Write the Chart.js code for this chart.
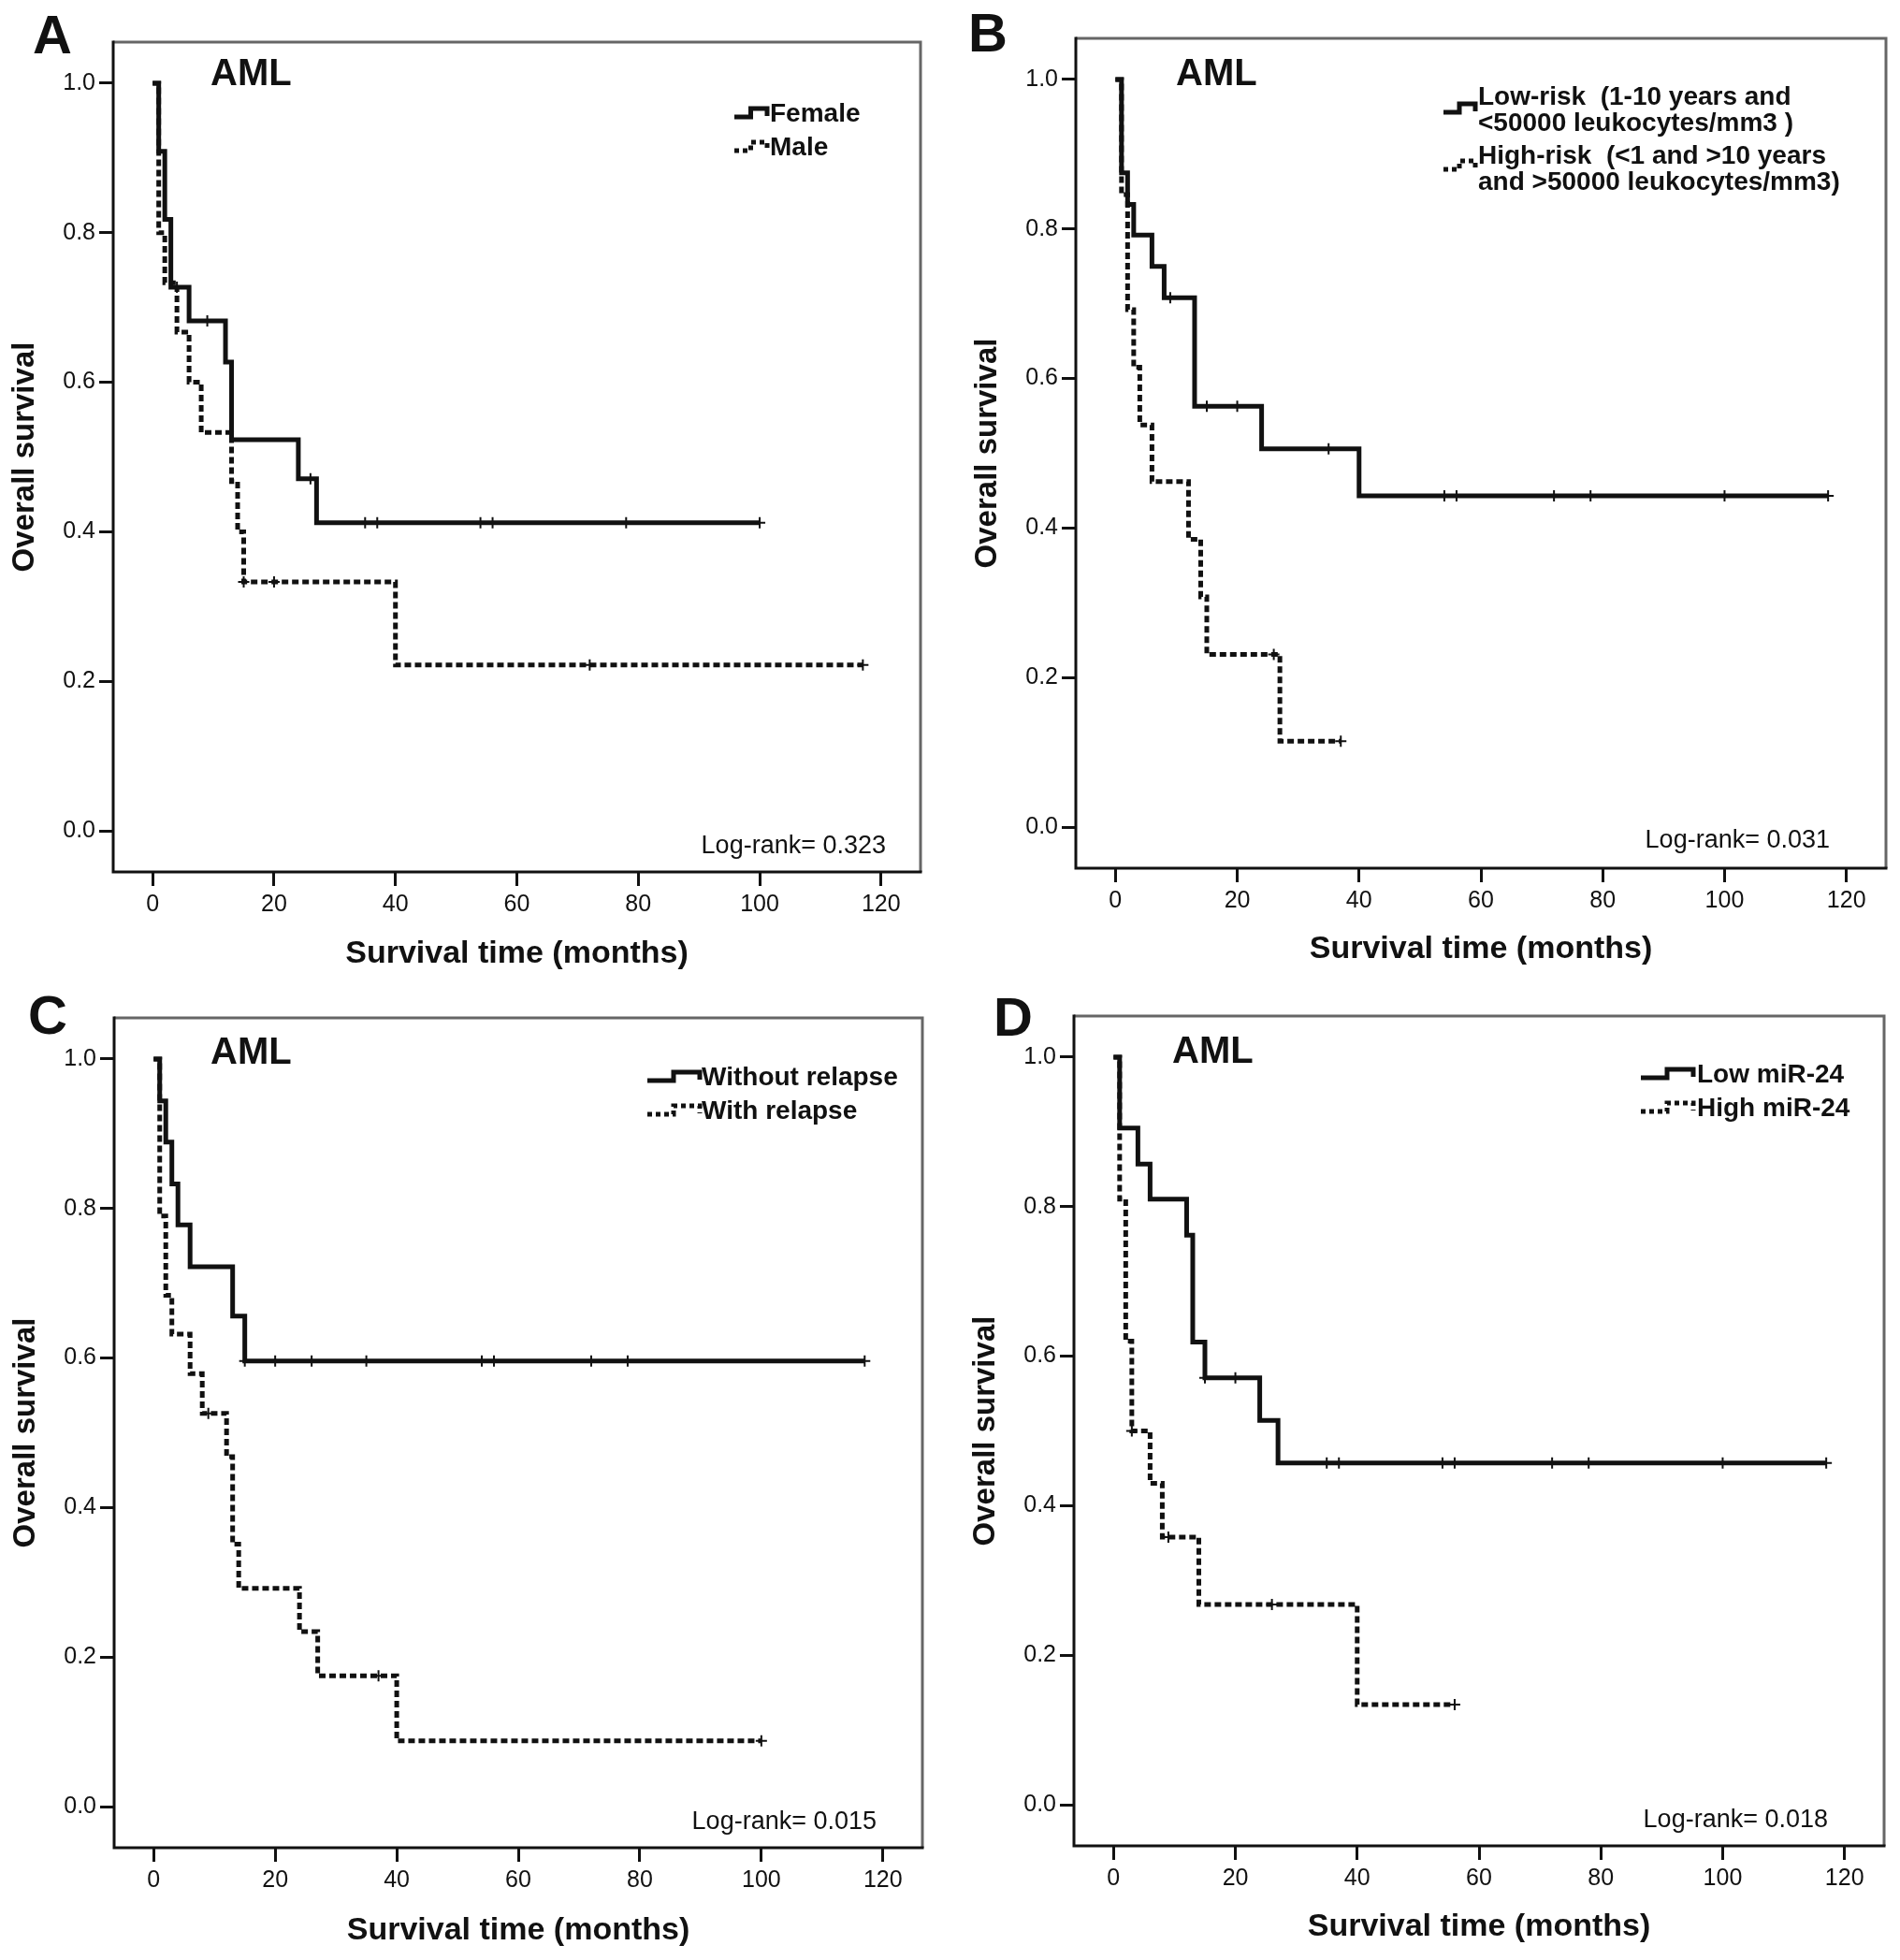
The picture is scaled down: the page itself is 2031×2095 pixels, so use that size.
<!DOCTYPE html>
<html lang="en">
<head>
<meta charset="UTF-8">
<title>AML - Overall survival</title>
<script src="https://cdn.jsdelivr.net/npm/chart.js"></script>
<style>
  body { margin: 0; padding: 0; background-color: #fff; }
  .page { position: relative; width: 2031px; height: 2095px; }
  canvas { position: absolute; }
</style>
</head>
<body>
<div class="page">
  <canvas id="panelA" width="1015" height="1047" style="left:0px;top:0px"></canvas>
  <canvas id="panelB" width="1016" height="1047" style="left:1015px;top:0px"></canvas>
  <canvas id="panelC" width="1015" height="1048" style="left:0px;top:1047px"></canvas>
  <canvas id="panelD" width="1016" height="1048" style="left:1015px;top:1047px"></canvas>
</div>
<script>
// axis ticks
const tickMonths = [0, 20, 40, 60, 80, 100, 120];
const tickSurvival = [0.0, 0.2, 0.4, 0.6, 0.8, 1.0];

// A - sex
const femaleTime = [0, 1, 2, 3, 6, 12, 13, 24, 27, 100];
const femaleSurv = [1.000, 0.909, 0.818, 0.727, 0.682, 0.627, 0.523, 0.471, 0.412, 0.412];
const femaleCensor = [4, 9, 26, 35, 37, 54, 56, 78, 100];
const maleTime = [0, 1, 2, 4, 6, 8, 13, 14, 15, 40, 117];
const maleSurv = [1.000, 0.800, 0.733, 0.667, 0.600, 0.533, 0.467, 0.400, 0.333, 0.222, 0.222];
const maleCensor = [15, 20, 72, 117];

// B - risk group
const lowRiskTime = [0, 1, 2, 3, 6, 8, 13, 24, 40, 117];
const lowRiskSurv = [1.000, 0.875, 0.833, 0.792, 0.750, 0.708, 0.563, 0.506, 0.443, 0.443];
const lowRiskCensor = [9, 15, 20, 35, 54, 56, 72, 78, 100, 117];
const highRiskTime = [0, 1, 2, 3, 4, 6, 12, 14, 15, 27, 37];
const highRiskSurv = [1.000, 0.846, 0.692, 0.615, 0.538, 0.462, 0.385, 0.308, 0.231, 0.115, 0.115];
const highRiskCensor = [26, 37];

// C - relapse
const noRelapseTime = [0, 1, 2, 3, 4, 6, 13, 15, 117];
const noRelapseSurv = [1.000, 0.944, 0.889, 0.833, 0.778, 0.722, 0.656, 0.596, 0.596];
const noRelapseCensor = [15, 20, 26, 35, 54, 56, 72, 78, 117];
const relapseTime = [0, 1, 2, 3, 6, 8, 12, 13, 14, 24, 27, 40, 100];
const relapseSurv = [1.000, 0.790, 0.684, 0.632, 0.579, 0.526, 0.468, 0.351, 0.292, 0.234, 0.175, 0.088, 0.088];
const relapseCensor = [9, 37, 100];

// D - miR-24 expression
const lowMirTime = [0, 1, 4, 6, 12, 13, 15, 24, 27, 117];
const lowMirSurv = [1.000, 0.905, 0.857, 0.810, 0.762, 0.619, 0.571, 0.514, 0.457, 0.457];
const lowMirCensor = [15, 20, 35, 37, 54, 56, 72, 78, 100, 117];
const highMirTime = [0, 1, 2, 3, 6, 8, 14, 40, 56];
const highMirSurv = [1.000, 0.810, 0.620, 0.500, 0.430, 0.358, 0.268, 0.134, 0.134];
const highMirCensor = [3, 9, 26, 56];

// texts
const panelLetters = ['A', 'B', 'C', 'D'];
const legendA = [['Female'], ['Male']];
const legendB = [['Low-risk  (1-10 years and', '<50000 leukocytes/mm3 )'],
                 ['High-risk  (<1 and >10 years', 'and >50000 leukocytes/mm3)']];
const legendC = [['Without relapse'], ['With relapse']];
const legendD = [['Low miR-24'], ['High miR-24']];
const logRanks = ['Log-rank= 0.323', 'Log-rank= 0.031', 'Log-rank= 0.015', 'Log-rank= 0.018'];

const FONT = "'Liberation Sans', Arial, Helvetica, sans-serif";
const INK = '#111';

function survivalAt(times, surv, t) {
  let s = surv[0];
  for (let i = 0; i < times.length; i++) {
    if (times[i] <= t) s = surv[i];
  }
  return s;
}

const panels = [
  { id: 'panelA', letter: panelLetters[0], logRank: logRanks[0],
    series: [
      { time: femaleTime, surv: femaleSurv, censor: femaleCensor, dotted: false },
      { time: maleTime, surv: maleSurv, censor: maleCensor, dotted: true }
    ],
    legend: { entries: legendA, symX: 785, symW: 35, textX: 823, font: 28,
              rows: [[122], [158]], symY: [122, 158] },
    box: { left: 121, top: 45, right: 984, bottom: 932 },
    letterPos: [35, 57], amlPos: [225, 91], logPos: [947, 912],
    yTitlePad: 7, xTitlePad: 7 },
  { id: 'panelB', letter: panelLetters[1], logRank: logRanks[1],
    series: [
      { time: lowRiskTime, surv: lowRiskSurv, censor: lowRiskCensor, dotted: false },
      { time: highRiskTime, surv: highRiskSurv, censor: highRiskCensor, dotted: true }
    ],
    legend: { entries: legendB, symX: 528, symW: 34, textX: 565, font: 28,
              rows: [[104, 132], [167, 195]], symY: [117, 178] },
    box: { left: 135, top: 41, right: 1001, bottom: 928 },
    letterPos: [20, 55], amlPos: [242, 91], logPos: [941, 906],
    yTitlePad: 21, xTitlePad: 12 },
  { id: 'panelC', letter: panelLetters[2], logRank: logRanks[2],
    series: [
      { time: noRelapseTime, surv: noRelapseSurv, censor: noRelapseCensor, dotted: false },
      { time: relapseTime, surv: relapseSurv, censor: relapseCensor, dotted: true }
    ],
    legend: { entries: legendC, symX: 692, symW: 56, textX: 750, font: 28,
              rows: [[105], [141]], symY: [105, 141] },
    box: { left: 122, top: 41, right: 986, bottom: 928 },
    letterPos: [30, 58], amlPos: [225, 90], logPos: [937, 908],
    yTitlePad: 8, xTitlePad: 11 },
  { id: 'panelD', letter: panelLetters[3], logRank: logRanks[3],
    series: [
      { time: lowMirTime, surv: lowMirSurv, censor: lowMirCensor, dotted: false },
      { time: highMirTime, surv: highMirSurv, censor: highMirCensor, dotted: true }
    ],
    legend: { entries: legendD, symX: 739, symW: 56, textX: 799, font: 28,
              rows: [[102], [138]], symY: [102, 138] },
    box: { left: 133, top: 39, right: 999, bottom: 926 },
    letterPos: [47, 60], amlPos: [238, 89], logPos: [939, 906],
    yTitlePad: 19, xTitlePad: 15 }
];

// little step glyph used in the legend
function drawStepSymbol(ctx, x, y, w, dotted) {
  ctx.save();
  ctx.strokeStyle = INK;
  ctx.lineWidth = 5;
  ctx.lineCap = 'butt';
  ctx.setLineDash(dotted ? [5, 4] : []);
  const xm = x + w * 0.5;
  ctx.beginPath();
  ctx.moveTo(x, y + 3);
  ctx.lineTo(xm, y + 3);
  ctx.lineTo(xm, y - 6);
  ctx.lineTo(x + w, y - 6);
  ctx.lineTo(x + w, y + 2);
  ctx.stroke();
  ctx.restore();
}

function decorPlugin(p) {
  return {
    id: 'decor_' + p.id,
    beforeDatasetsDraw(chart) {
      const ctx = chart.ctx;
      const a = chart.chartArea;
      ctx.save();
      ctx.lineWidth = 3;
      ctx.strokeStyle = '#666';
      ctx.beginPath();
      ctx.moveTo(a.left, a.top);
      ctx.lineTo(a.right, a.top);
      ctx.lineTo(a.right, a.bottom);
      ctx.stroke();
      ctx.strokeStyle = INK;
      ctx.beginPath();
      ctx.moveTo(a.left, a.top - 1.5);
      ctx.lineTo(a.left, a.bottom);
      ctx.lineTo(a.right + 1.5, a.bottom);
      ctx.stroke();
      ctx.restore();
    },
    afterDraw(chart) {
      const ctx = chart.ctx;
      ctx.save();
      ctx.fillStyle = INK;
      ctx.textAlign = 'left';
      ctx.textBaseline = 'alphabetic';
      ctx.font = 'bold 58px ' + FONT;
      ctx.fillText(p.letter, p.letterPos[0], p.letterPos[1]);
      ctx.font = 'bold 40px ' + FONT;
      ctx.fillText('AML', p.amlPos[0], p.amlPos[1]);

      const lg = p.legend;
      ctx.font = 'bold ' + lg.font + 'px ' + FONT;
      ctx.textBaseline = 'middle';
      lg.entries.forEach((lines, i) => {
        drawStepSymbol(ctx, lg.symX, lg.symY[i], lg.symW, p.series[i].dotted);
        lines.forEach((txt, j) => ctx.fillText(txt, lg.textX, lg.rows[i][j]));
      });

      ctx.font = '27px ' + FONT;
      ctx.textAlign = 'right';
      ctx.textBaseline = 'alphabetic';
      ctx.fillText(p.logRank, p.logPos[0], p.logPos[1]);
      ctx.restore();
    }
  };
}

function makePanel(p) {
  const canvas = document.getElementById(p.id);
  const W = canvas.width, H = canvas.height;
  const datasets = [];
  p.series.forEach(s => {
    datasets.push({
      data: s.time.map((t, i) => ({ x: t, y: s.surv[i] })),
      showLine: true,
      stepped: true,
      borderColor: INK,
      borderWidth: 5,
      borderDash: s.dotted ? [7, 4] : [],
      borderCapStyle: 'butt',
      borderJoinStyle: 'miter',
      pointRadius: 0,
      fill: false
    });
    datasets.push({
      data: s.censor.map(t => ({ x: t, y: survivalAt(s.time, s.surv, t) })),
      showLine: false,
      pointStyle: 'cross',
      pointRadius: 6,
      pointBorderWidth: 2,
      borderColor: INK,
      backgroundColor: INK
    });
  });

  new Chart(canvas, {
    type: 'scatter',
    data: { datasets: datasets },
    options: {
      responsive: false,
      animation: false,
      devicePixelRatio: 1,
      events: [],
      layout: { padding: { left: 0, top: p.box.top, right: W - p.box.right, bottom: 0 } },
      plugins: { legend: { display: false }, tooltip: { enabled: false } },
      scales: {
        x: {
          type: 'linear',
          min: -6.5,
          max: 126.5,
          afterBuildTicks: sc => { sc.ticks = tickMonths.map(v => ({ value: v })); },
          afterFit: sc => { sc.height = H - p.box.bottom; },
          border: { display: false },
          grid: { drawOnChartArea: false, drawTicks: true, tickLength: 15, lineWidth: 3, tickWidth: 3, color: INK },
          ticks: { color: INK, padding: 5, maxRotation: 0, font: { family: FONT, size: 25 } },
          title: { display: true, text: 'Survival time (months)', color: INK,
                   padding: { top: 0, bottom: p.xTitlePad },
                   font: { family: FONT, size: 34, weight: 'bold' } }
        },
        y: {
          type: 'linear',
          min: -0.055,
          max: 1.055,
          afterBuildTicks: sc => { sc.ticks = tickSurvival.map(v => ({ value: v })); },
          afterFit: sc => { sc.width = p.box.left; },
          border: { display: false },
          grid: { drawOnChartArea: false, drawTicks: true, tickLength: 15, lineWidth: 3, tickWidth: 3, color: INK },
          ticks: { color: INK, padding: 4, font: { family: FONT, size: 25 },
                   callback: v => Number(v).toFixed(1) },
          title: { display: true, text: 'Overall survival', color: INK,
                   padding: { top: p.yTitlePad, bottom: 0 },
                   font: { family: FONT, size: 33, weight: 'bold' } }
        }
      }
    },
    plugins: [decorPlugin(p)]
  });
}

panels.forEach(makePanel);
</script>
</body>
</html>
